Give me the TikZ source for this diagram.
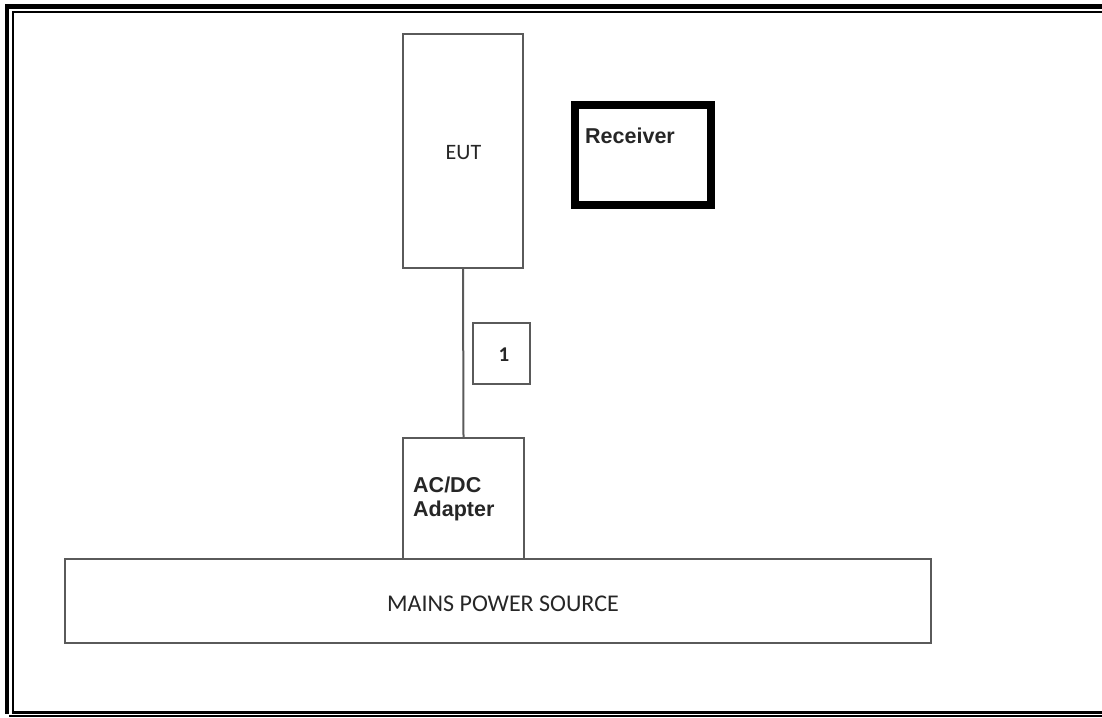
\documentclass[tikz,border=0pt]{standalone}
\usepackage{fontspec}
\setmainfont{Carlito}
\newfontfamily\arialfont{Liberation Sans}
\definecolor{boxgray}{HTML}{5A5A5A}
\definecolor{txtgray}{HTML}{262626}
\begin{document}
\begin{tikzpicture}[x=1pt,y=-1pt,
  thinbox/.style={draw=boxgray,line width=2pt,rectangle,inner sep=0pt},
  thickbox/.style={draw=black,line width=8pt,rectangle,inner sep=0pt},
  wire/.style={draw=boxgray,line width=2pt},
  calitext/.style={font=\fontsize{22}{26}\selectfont,text=txtgray,inner sep=0pt},
  boldtext/.style={font=\arialfont\bfseries\fontsize{21.5}{24}\selectfont,text=black!85,inner sep=0pt,align=left}
]
\useasboundingbox (0,0) rectangle (1102,717);
% page border (thin-thick)
\fill[black] (5,4) rectangle (9,714);
\fill[black] (5,4) rectangle (1102,9);
\fill[black] (12,11) rectangle (13.8,712);
\fill[black] (12,11) rectangle (1102,13);
\fill[black] (12,711) rectangle (1102,714.3);
\fill[black] (9,715.2) rectangle (1102,716.7);
% boxes
\node[thinbox,minimum width=120pt,minimum height=234pt] (eut) at (463,151) {};
\node[thinbox,minimum width=121pt,minimum height=121pt] (adapter) at (463.5,498.5) {};
\node[thinbox,minimum width=57pt,minimum height=61pt] (one) at (501.5,353.5) {};
\node[thinbox,minimum width=866pt,minimum height=84pt] (mains) at (498,601) {};
\node[thickbox,minimum width=135.5pt,minimum height=99.5pt] (rx) at (642.75,154.75) {};
% connector
\draw[wire] (eut.south) -- (adapter.north);
% texts
\node[calitext] (eutlabel) at (463.5,153) {EUT};
\node[calitext,font=\bfseries\fontsize{21}{24}\selectfont] (onelabel) at (504,355) {1};
\node[calitext,font=\fontsize{24}{28}\selectfont] (mainslabel) at (503,603.5) {MAINS POWER SOURCE};
\node[boldtext,anchor=base west] (rxlabel) at (585,143) {Receiver};
\node[boldtext,anchor=base west] (adlabel1) at (413,492) {AC/DC};
\node[boldtext,anchor=base west] (adlabel2) at (413,516) {Adapter};
\end{tikzpicture}
\end{document}
